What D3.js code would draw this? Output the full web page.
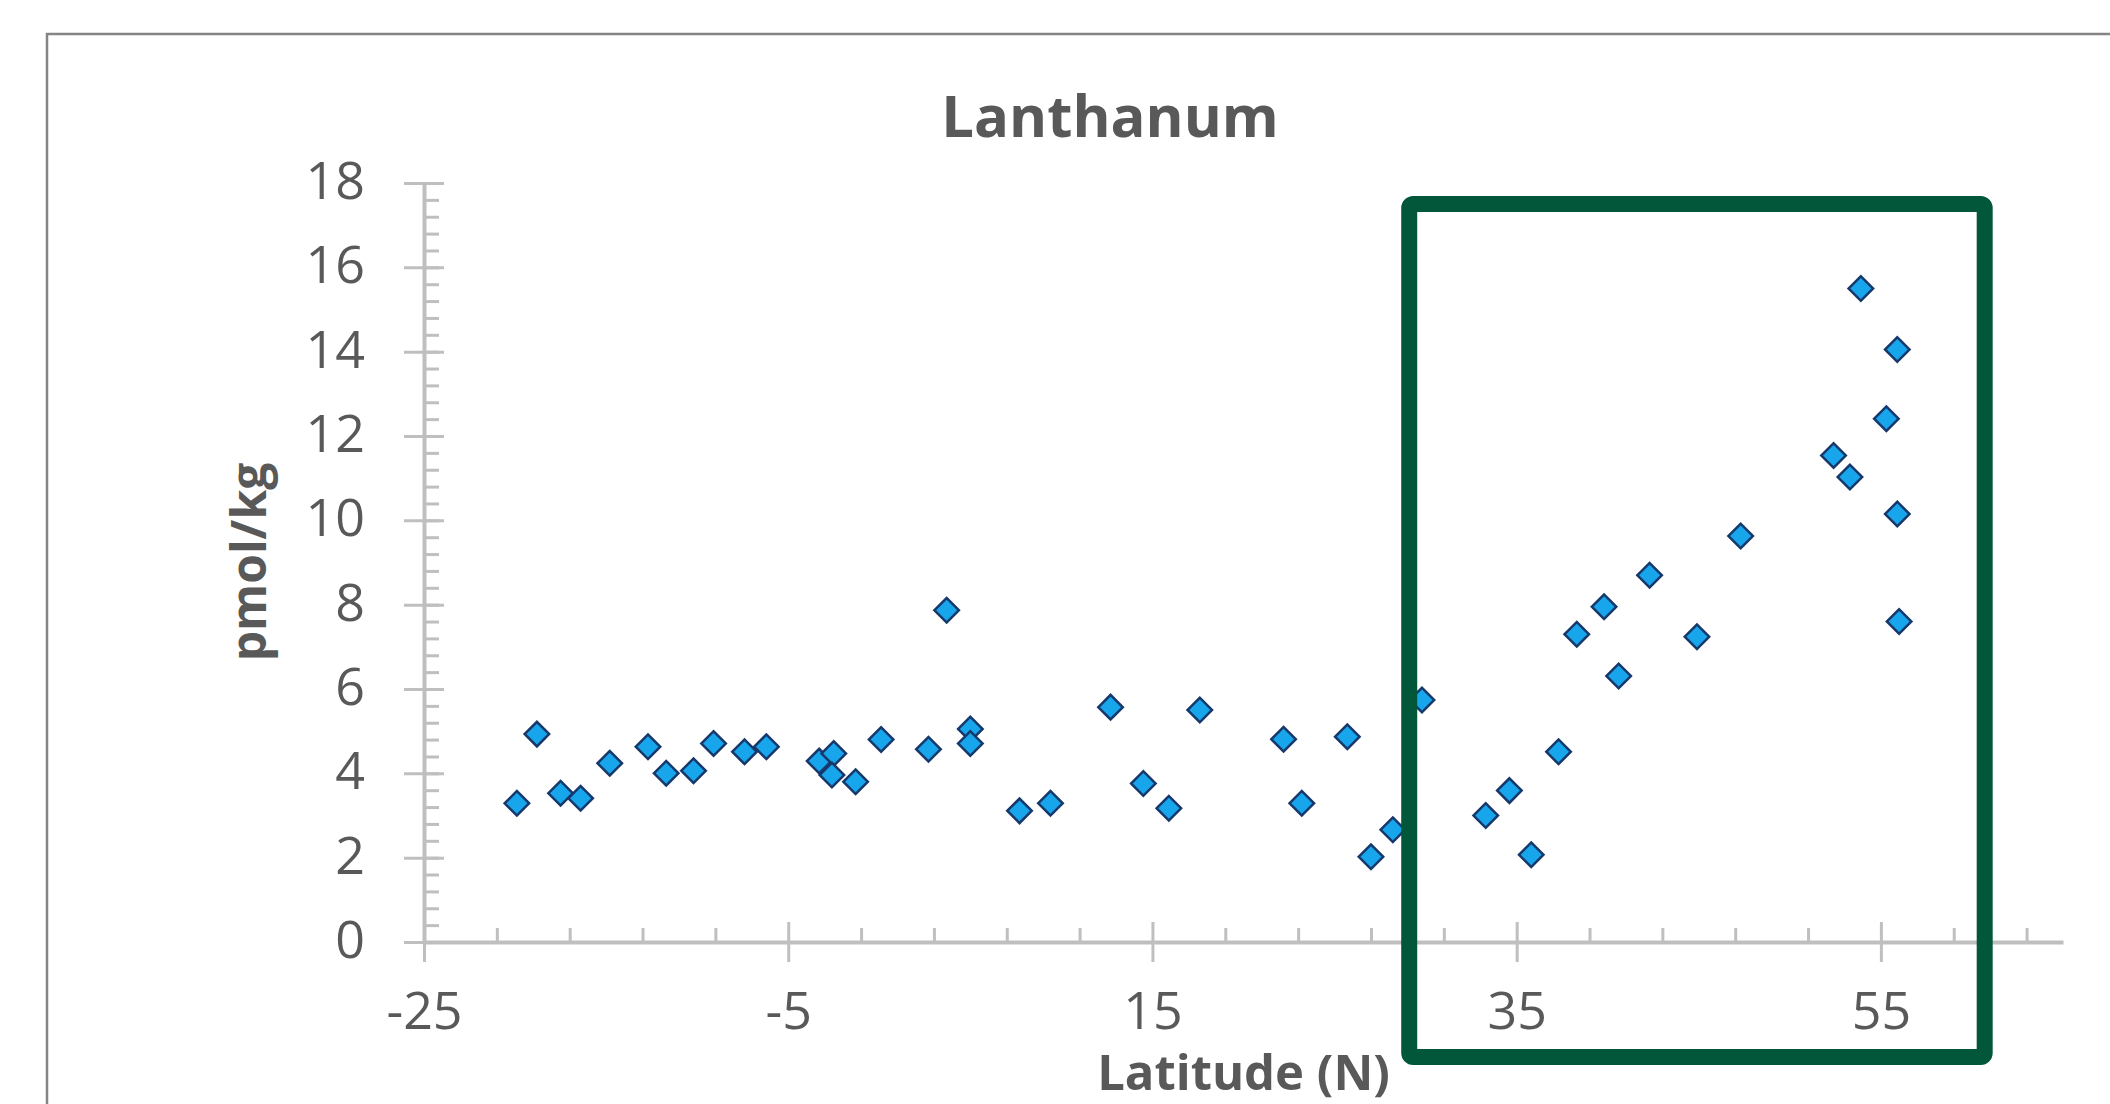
<!DOCTYPE html>
<html>
  <head>
    <meta charset="utf-8">
    <script src="https://d3js.org/d3.v7.min.js"></script>
    <style>
      body { margin: 0; background: #fff; }
      text { font-family: "Open Sans", "Noto Sans", sans-serif; fill: #595959; }
    </style>
  </head>
  <body>
    <script>

      const width = 2110;
      const height = 1104;

      // latitude (N) and lanthanum (pmol/kg)
      const latitude = [-19.9, -18.8, -17.5, -16.4, -14.8, -12.7, -11.7, -10.2, -9.1, -7.4,
        -6.2, -3.3, -2.5, -2.6, -1.3, 0.1, 2.7, 3.7, 5.0, 5.0,
        7.7, 9.4, 12.7, 14.5, 15.9, 17.6, 22.2, 23.2, 25.7, 27.0,
        28.2, 29.8, 33.3, 34.6, 35.8, 37.3, 38.3, 39.8, 40.6, 42.3,
        44.9, 47.3, 52.4, 53.3, 53.9, 55.3, 55.9, 55.9, 56.0];
      const lanthanum = [3.29, 4.93, 3.53, 3.41, 4.24, 4.63, 4.0, 4.06, 4.71, 4.51,
        4.63, 4.29, 4.47, 3.96, 3.8, 4.8, 4.57, 7.87, 5.05, 4.71,
        3.11, 3.29, 5.57, 3.76, 3.17, 5.5, 4.81, 3.29, 4.87, 2.02,
        2.66, 5.74, 3.0, 3.59, 2.07, 4.51, 7.3, 7.95, 6.31, 8.7,
        7.24, 9.63, 11.54, 11.03, 15.5, 12.41, 14.05, 10.15, 7.6];

      const xTicks = [-25, -5, 15, 35, 55];
      const xMinor = [-21, -17, -13, -9, -1, 3, 7, 11, 19, 23, 27, 31, 39, 43, 47, 51, 59, 63];
      const yTicks = [0, 2, 4, 6, 8, 10, 12, 14, 16, 18];
      const yMinor = d3.range(0, 18.01, 0.4);

      // highlight box, in data units
      const boxLat = [29.1, 60.7];
      const boxLa = [-2.73, 17.5];

      const data = latitude.map((d, i) => ({lat: d, la: lanthanum[i]}));

      const svg = d3.select("body")
        .append("svg")
        .attr("width", width)
        .attr("height", height);

      svg.append("rect")
        .attr("x", 47).attr("y", 34)
        .attr("width", 2126).attr("height", 1200)
        .attr("fill", "#fff")
        .attr("stroke", "#858585")
        .attr("stroke-width", 2.5);

      const x = d3.scaleLinear().domain([-25, 65]).range([424, 2063]);
      const y = d3.scaleLinear().domain([0, 18]).range([942, 183]);

      const axisColor = "#bfbfbf";

      // y axis
      const gyMinor = svg.append("g")
        .attr("transform", `translate(${x(-25)},0)`)
        .call(d3.axisRight(y).tickValues(yMinor).tickSize(15).tickFormat(""));
      gyMinor.select(".domain").remove();

      const gy = svg.append("g")
        .attr("transform", `translate(${x(-25)},0)`)
        .call(d3.axisLeft(y).tickValues(yTicks).tickSize(20).tickSizeOuter(0).tickFormat(d => String(d)));
      gy.selectAll(".tick line").attr("x1", 20);
      gy.selectAll(".tick text")
        .attr("x", -59)
        .attr("dy", "0.3em")
        .style("font-size", "52px");

      // x axis
      const gxMinor = svg.append("g")
        .attr("transform", `translate(0,${y(0)})`)
        .call(d3.axisTop(x).tickValues(xMinor).tickSize(14).tickFormat(""));
      gxMinor.select(".domain").remove();

      const gx = svg.append("g")
        .attr("transform", `translate(0,${y(0)})`)
        .call(d3.axisBottom(x).tickValues(xTicks).tickSize(20).tickSizeOuter(0).tickFormat(d => String(d)));
      gx.selectAll(".tick line").attr("y1", -20);
      gx.selectAll(".tick text")
        .attr("y", 87)
        .attr("dy", 0)
        .style("font-size", "52px");

      svg.selectAll(".domain, .tick line")
        .attr("stroke", axisColor)
        .attr("stroke-width", 4);
      svg.selectAll(".tick line").attr("stroke-width", 3);
      svg.selectAll(".tick text").style("fill", "#595959").attr("font-family", null);

      // points
      const diamond = d3.symbol(d3.symbolSquare, 300);
      svg.append("g")
        .selectAll("path")
        .data(data)
        .join("path")
        .attr("d", diamond)
        .attr("transform", d => `translate(${x(d.lat)},${y(d.la)}) rotate(45)`)
        .attr("fill", "#17a6ec")
        .attr("stroke", "#17386b")
        .attr("stroke-width", 2.5);

      // titles
      svg.append("text")
        .attr("x", 1110).attr("y", 137)
        .attr("text-anchor", "middle")
        .style("font-size", "58px")
        .style("font-weight", "bold")
        .text("Lanthanum");

      svg.append("text")
        .attr("transform", "translate(266,562) rotate(-90)")
        .attr("text-anchor", "middle")
        .style("font-size", "48px")
        .style("font-weight", "bold")
        .text("pmol/kg");

      svg.append("text")
        .attr("x", (x(-25) + x(65)) / 2).attr("y", 1090)
        .attr("text-anchor", "middle")
        .style("font-size", "49px")
        .style("font-weight", "bold")
        .text("Latitude (N)");

      // green highlight box
      svg.append("rect")
        .attr("x", x(boxLat[0]))
        .attr("y", y(boxLa[1]))
        .attr("width", x(boxLat[1]) - x(boxLat[0]))
        .attr("height", y(boxLa[0]) - y(boxLa[1]))
        .attr("rx", 4)
        .attr("fill", "none")
        .attr("stroke", "#02573a")
        .attr("stroke-width", 16);

    </script>
  </body>
</html>
